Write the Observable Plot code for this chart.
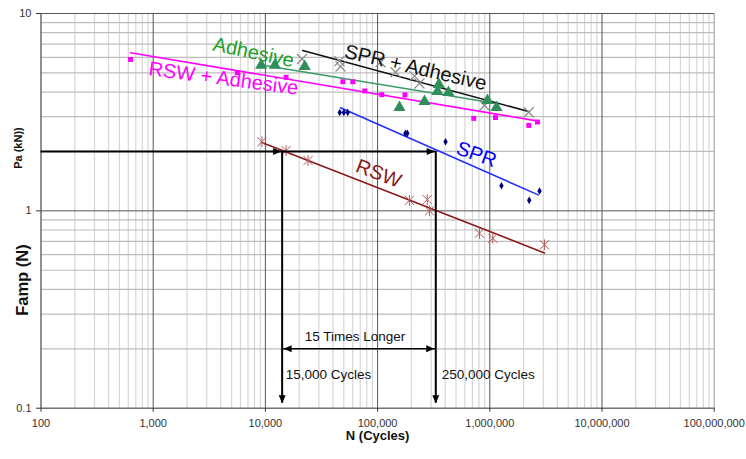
<!DOCTYPE html>
<html><head><meta charset="utf-8">
<script src="https://cdn.jsdelivr.net/npm/d3@7"></script>
<script src="https://cdn.jsdelivr.net/npm/@observablehq/plot@0.6"></script>
<style>body{margin:0;background:#fff;} #chart svg{display:block;}</style>
</head><body><div id="chart"></div>
<script>
// ---- data ----
const xTicks = [100, 1e3, 1e4, 1e5, 1e6, 1e7, 1e8];
const xTickLabels = ["100", "1,000", "10,000", "100,000", "1,000,000", "10,000,000", "100,000,000"];
const yTicks = [0.1, 1, 10];
const yTickLabels = ["0.1", "1", "10"];

const rswN  = [9300, 15300, 24000, 192000, 277000, 290000, 809000, 1064000, 3070000];
const rswPa = [2.24, 2.02, 1.80, 1.13, 1.14, 1.00, 0.77, 0.726, 0.673];
const rswFitN  = [9300, 3070000];
const rswFitPa = [2.22, 0.612];

const sprN  = [46000, 50000, 54200, 177000, 184000, 403000, 1270000, 2245000, 2775000];
const sprPa = [3.15, 3.15, 3.15, 2.47, 2.47, 2.24, 1.34, 1.13, 1.26];
const sprFitN  = [46700, 2700000];
const sprFitPa = [3.33, 1.205];

const sprAdhN  = [21200, 45700, 46700, 106000, 144500, 213000, 236000, 897000, 2226000];
const sprAdhPa = [5.88, 5.74, 5.39, 5.66, 5.04, 4.82, 4.42, 3.42, 3.16];
const sprAdhFitN  = [21500, 2250000];
const sprAdhFitPa = [6.49, 3.18];

const adhN  = [9175, 12130, 22400, 156700, 261900, 352000, 342000, 428000, 954000, 1147000];
const adhPa = [5.47, 5.47, 5.39, 3.34, 3.58, 4.37, 4.03, 3.98, 3.62, 3.34];
const adhFitN  = [8670, 1148000];
const adhFitPa = [5.51, 3.50];

const rswAdhN  = [628, 5610, 15300, 49000, 60100, 76900, 109000, 175400, 719000, 1124000, 2226000, 2660000];
const rswAdhPa = [5.85, 5.02, 4.75, 4.51, 4.51, 4.05, 3.88, 3.87, 2.94, 2.97, 2.71, 2.82];
const rswAdhFitN  = [628, 2710000];
const rswAdhFitPa = [6.32, 2.85];

const seriesLabels = ["Adhesive", "SPR + Adhesive", "RSW + Adhesive", "SPR", "RSW"];
const labelN  = [7830, 217700, 4233, 760000, 101900];
const labelPa = [6.34, 5.32, 4.68, 1.93, 1.545];

// annotation (reading of the RSW / SPR lives at 2 kN)
const annotLevel = 2;
const annotN = [14100, 330000];
const annotBottom = 0.106;
const spanLevel = 0.2;
const annotTexts = ["15 Times Longer", "15,000 Cycles", "250,000 Cycles"];
const spanTextN = 63000, spanTextPa = 0.231, cyclesTextPa = 0.148;

// ---- helpers ----
const pts = (xs, ys) => xs.map((x, i) => ({n: x, pa: ys[i]}));
const gridMinorX = [], gridMinorY = [];
for (let e = 2; e < 8; e++) for (let k = 2; k < 10; k++) gridMinorX.push(k * 10 ** e);
for (let e = -1; e < 1; e++) for (let k = 2; k < 10; k++) gridMinorY.push(+(k * 10 ** e).toPrecision(3));

const starSym = {draw(c){const r=4.6; c.moveTo(-r,-r); c.lineTo(r,r); c.moveTo(-r,r); c.lineTo(r,-r); c.moveTo(0,-r-0.8); c.lineTo(0,r+0.8);}};
const timesSym = {draw(c){const r=5; c.moveTo(-r,-r); c.lineTo(r,r); c.moveTo(-r,r); c.lineTo(r,-r);}};
const triRight = {draw(c){c.moveTo(0,0); c.lineTo(-8,-3.5); c.lineTo(-8,3.5); c.closePath();}};
const triLeft  = {draw(c){c.moveTo(0,0); c.lineTo(8,-3.5); c.lineTo(8,3.5); c.closePath();}};
const triDown  = {draw(c){c.moveTo(0,0); c.lineTo(-3.5,-8); c.lineTo(3.5,-8); c.closePath();}};

const F = "'Liberation Sans', Arial, sans-serif";
const lbl = (i, color, rot) => Plot.text([{n: labelN[i], pa: labelPa[i], t: seriesLabels[i]}],
  {x: "n", y: "pa", text: "t", fill: color, fontSize: 20, rotate: rot, textAnchor: "middle"});

const chart = Plot.plot({
  width: 746, height: 459,
  marginLeft: 40.5, marginRight: 32.3, marginTop: 13, marginBottom: 51.3,
  style: {fontFamily: F, background: "#fff", overflow: "visible"},
  x: {type: "log", domain: [100, 1e8], label: null},
  y: {type: "log", domain: [0.1, 10], label: null},
  marks: [
    Plot.ruleX(gridMinorX, {stroke: "#d6d6d6", strokeWidth: 1.2}),
    Plot.ruleY(gridMinorY, {stroke: "#bcbcbc", strokeWidth: 1.2}),
    Plot.frame({stroke: "#999"}),
    Plot.ruleX(xTicks.slice(0, -1), {stroke: "#555", strokeWidth: 1}),
    Plot.ruleY(yTicks, {stroke: "#555", strokeWidth: 1}),
    Plot.axisX(xTicks, {tickFormat: d => xTickLabels[xTicks.indexOf(d)], tickSize: 4, tickPadding: 7, fontSize: 11, label: null, color: "#333"}),
    Plot.axisY(yTicks, {tickFormat: d => yTickLabels[yTicks.indexOf(d)], tickSize: 4.5, tickPadding: 5, fontSize: 11, label: null, color: "#333"}),

    // fitted lines
    Plot.line(pts(rswAdhFitN, rswAdhFitPa), {x: "n", y: "pa", stroke: "#ff00ff", strokeWidth: 1.6}),
    Plot.line(pts(adhFitN, adhFitPa), {x: "n", y: "pa", stroke: "#3a9a6a", strokeWidth: 1.6}),
    Plot.line(pts(sprAdhFitN, sprAdhFitPa), {x: "n", y: "pa", stroke: "#111", strokeWidth: 1.6}),
    Plot.line(pts(sprFitN, sprFitPa), {x: "n", y: "pa", stroke: "#1f2fff", strokeWidth: 1.6}),
    Plot.line(pts(rswFitN, rswFitPa), {x: "n", y: "pa", stroke: "#8b1a1a", strokeWidth: 1.6}),

    // points
    Plot.dot(pts(rswAdhN, rswAdhPa), {x: "n", y: "pa", symbol: "square", r: 2.8, fill: "#ff00ff"}),
    Plot.dot(pts(sprAdhN, sprAdhPa), {x: "n", y: "pa", symbol: timesSym, fill: "none", stroke: "#8a8a8a", strokeWidth: 1.2}),
    Plot.dot(pts(adhN, adhPa), {x: "n", y: "pa", symbol: "triangle", r: 4.5, fill: "#2f8f5a"}),
    Plot.dot(pts(sprN, sprPa), {x: "n", y: "pa", symbol: "diamond", r: 2.3, fill: "#00007f"}),
    Plot.dot(pts(rswN, rswPa), {x: "n", y: "pa", symbol: starSym, fill: "none", stroke: "#b35b5b", strokeWidth: 1}),

    // series labels
    lbl(0, "#1e9e28", 12),
    lbl(1, "#111", 13),
    lbl(2, "#ff00ff", 7.5),
    lbl(3, "#0000ff", 20),
    lbl(4, "#8b1a1a", 21),

    // annotation arrows
    Plot.ruleY([annotLevel], {x1: 100, x2: annotN[1], stroke: "#000", strokeWidth: 2}),
    Plot.ruleX(annotN, {y1: annotLevel, y2: annotBottom, stroke: "#000", strokeWidth: 2}),
    Plot.dot(annotN.map(n => ({n, pa: annotLevel})), {x: "n", y: "pa", symbol: triRight, fill: "#000", dx: -1}),
    Plot.dot(annotN.map(n => ({n, pa: annotBottom})), {x: "n", y: "pa", symbol: triDown, fill: "#000"}),
    Plot.ruleY([spanLevel], {x1: annotN[0], x2: annotN[1], stroke: "#000", strokeWidth: 1.5, dx: 0}),
    Plot.dot([{n: annotN[0], pa: spanLevel}], {x: "n", y: "pa", symbol: triLeft, fill: "#000", dx: 1.5}),
    Plot.dot([{n: annotN[1], pa: spanLevel}], {x: "n", y: "pa", symbol: triRight, fill: "#000", dx: -1.5}),
    Plot.text([{n: spanTextN, pa: spanTextPa, t: annotTexts[0]}], {x: "n", y: "pa", text: "t", fontSize: 13.5, fill: "#111"}),
    Plot.text([{n: annotN[0], pa: cyclesTextPa, t: annotTexts[1]}], {x: "n", y: "pa", text: "t", fontSize: 13.5, fill: "#111", textAnchor: "start", dx: 3.5}),
    Plot.text([{n: annotN[1], pa: cyclesTextPa, t: annotTexts[2]}], {x: "n", y: "pa", text: "t", fontSize: 13.5, fill: "#111", textAnchor: "start", dx: 6}),

    // axis titles
    Plot.text(["N (Cycles)"], {frameAnchor: "bottom", text: d => d, dy: 31.5, fontSize: 13, fontWeight: "bold", fill: "#111"}),
    Plot.text(["Pa (kN))"], {frameAnchor: "left", text: d => d, dx: -22.5, dy: -42, rotate: -90, fontSize: 11, fontWeight: "bold", fill: "#111"}),
    Plot.text(["Famp (N)"], {frameAnchor: "left", text: d => d, dx: -18, dy: 105, rotate: -90, fontSize: 16.5, fontWeight: "bold", fill: "#111"})
  ]
});
document.getElementById("chart").appendChild(chart);
</script>
</body></html>
